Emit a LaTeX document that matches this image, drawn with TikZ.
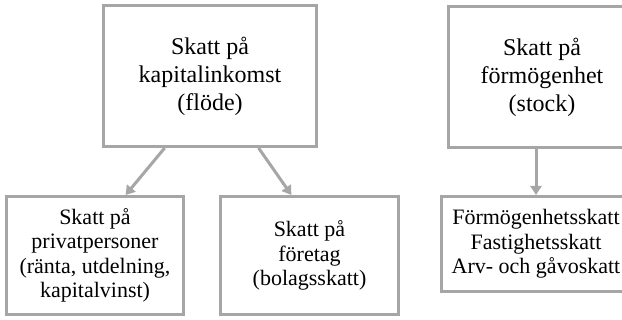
\documentclass[tikz,border=0pt]{standalone}
\usepackage{fontspec}
\setmainfont{Liberation Serif}
\usepackage{tikz}
\usetikzlibrary{positioning, calc, arrows.meta}
\definecolor{boxgray}{RGB}{166,166,166}
\tikzset{box/.style = {rectangle,draw=boxgray,line width=3pt,align=center,inner sep=0pt}}
\tikzset{bigtext/.style = {font=\fontsize{24}{28}\selectfont},
         smalltext/.style = {font=\fontsize{22}{24.5}\selectfont}}
\tikzset{link/.style = {draw=boxgray,line width=3pt,-{Triangle[length=9pt,width=11pt]}}}

\begin{document}
\begin{tikzpicture}[x=1pt,y=-1pt]
                \path[use as bounding box, clip] (0,0) rectangle (622,320);
                % top row
                \node[box,bigtext,minimum width=213pt,minimum height=141pt] (flow) at (210,76) {Skatt på\\kapitalinkomst\\(flöde)};
                \node[box,bigtext,minimum width=187pt,minimum height=141pt] (stock) at (542,77) {Skatt på\\förmögenhet\\(stock)};
                % bottom row
                \node[box,smalltext,minimum width=177pt,minimum height=118pt] (persons) at (95,255.5) {Skatt på\\privatpersoner\\(ränta, utdelning,\\kapitalvinst)};
                \node[box,smalltext,minimum width=178pt,minimum height=118pt] (firms) at (309.5,255.5) {Skatt på\\företag\\(bolagsskatt)};
                \node[box,smalltext,minimum width=189pt,minimum height=95pt] (wealth) at (536,244) {Förmögenhetsskatt\\Fastighetsskatt\\Arv- och gåvoskatt};
                \draw[link] ($(flow.south west)!0.29!(flow.south east)$) -- ($(persons.north west)!0.67!(persons.north east)$);
                \draw[link] ($(flow.south west)!0.725!(flow.south east)$) -- ($(firms.north west)!0.4!(firms.north east)$);
                \draw[link] (wealth.north |- stock.south) -- (wealth.north);
            \end{tikzpicture}
\end{document}
